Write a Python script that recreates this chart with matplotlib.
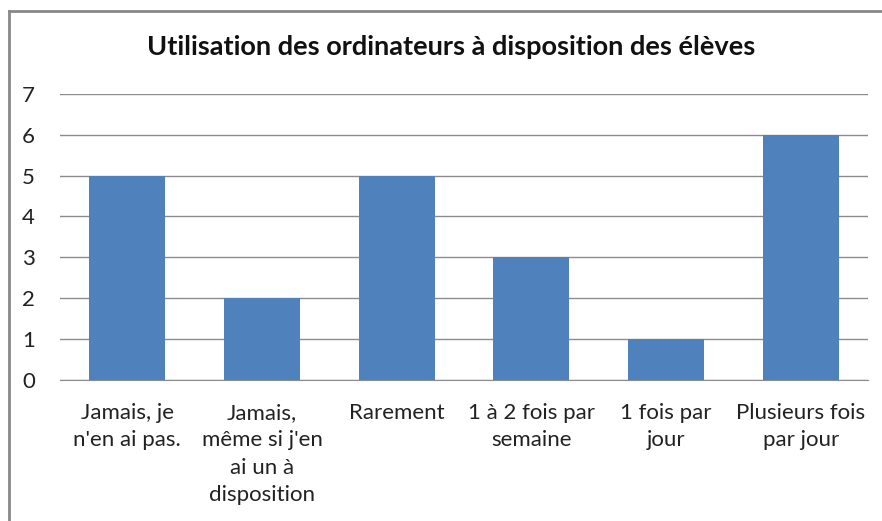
import matplotlib.pyplot as plt
from matplotlib.lines import Line2D

categories = ["Jamais, je\nn'en ai pas.", "Jamais,\nmême si j'en\nai un à\ndisposition", "Rarement",
              "1 à 2 fois par\nsemaine", "1 fois par\njour", "Plusieurs fois\npar jour"]
values = [5, 2, 5, 3, 1, 6]
yticks = [0, 1, 2, 3, 4, 5, 6, 7]

plt.rcParams['font.family'] = ['Lato', 'DejaVu Sans']

fig = plt.figure(figsize=(8.82, 5.21), dpi=100)
ax = fig.add_axes([60/882, 1 - 379.5/521, 808/882, 285.5/521])

x = range(len(categories))
ax.bar(x, values, width=0.565, color='#4F81BD', zorder=3)
ax.set_xlim(-0.5, len(categories) - 0.5)
ax.set_ylim(0, 7)
ax.set_yticks(yticks)
ax.grid(axis='y', color='#8c8c8c', linewidth=1, zorder=0)
ax.set_xticks(list(x))
ax.set_xticklabels(categories, fontsize=16, color='#222222', linespacing=1.45)
ax.tick_params(axis='y', length=0, pad=18, labelsize=16, labelcolor='#222222')
ax.tick_params(axis='x', length=0, pad=17)
for s in ['top', 'right', 'left']:
    ax.spines[s].set_visible(False)
ax.spines['bottom'].set_color('#8c8c8c')

fig.text(451/882, 1 - 47/521, "Utilisation des ordinateurs à disposition des élèves",
         ha='center', va='center', fontsize=19.5, fontweight='bold', color='#111111')

# outer chart frame (runs off right and bottom edges)
fx, fy = 9/882, 1 - 11/521
fig.add_artist(Line2D([fx, fx], [0, fy], transform=fig.transFigure, color='#888888', lw=2))
fig.add_artist(Line2D([fx, 1], [fy, fy], transform=fig.transFigure, color='#888888', lw=2))

fig.savefig('out.png', dpi=100)
